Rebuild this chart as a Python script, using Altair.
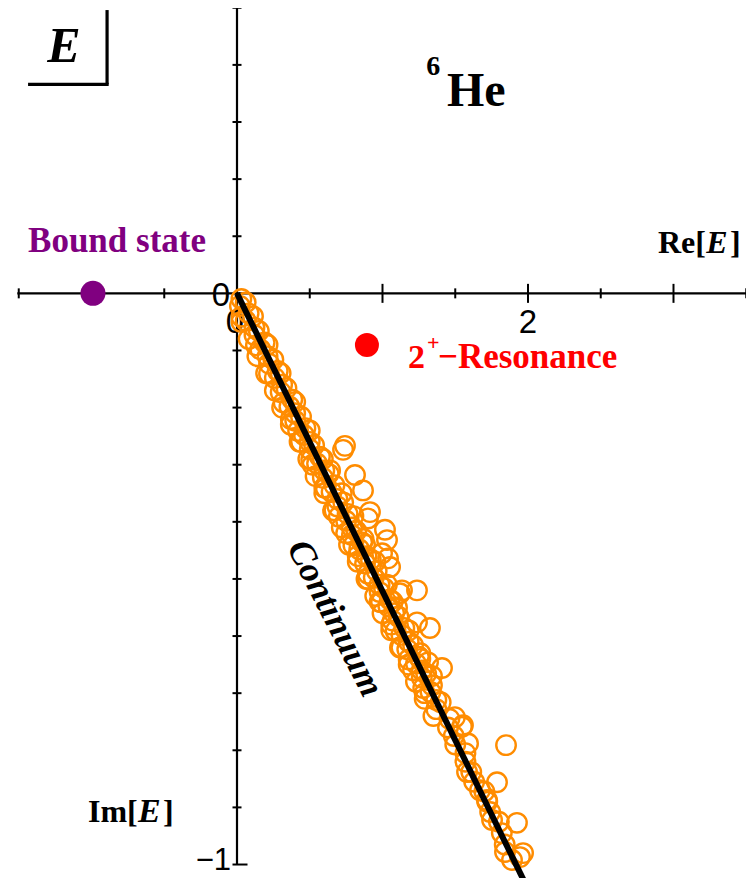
import altair as alt
import pandas as pd

# ---------------- data ----------------
X_MIN, X_MAX = -1.5739, 3.4983
Y_MIN, Y_MAX = -1.0236, 0.4996

# continuum states (orange open circles)
cont_re = [0.03, 0.02, 0.08, 0.06, 0.12, 0.12, 0.19, 0.16, 0.21, 0.22, 0.28, 0.26, 0.31, 0.30,
           0.38, 0.36, 0.40, 0.40, 0.47, 0.46, 0.50, 0.50, 0.57, 0.55, 0.60, 0.59, 0.67, 0.65,
           0.69, 0.69, 0.76, 0.75, 0.79, 0.79, 0.86, 0.84, 0.89, 0.88, 0.96, 0.94, 0.98, 0.98,
           1.05, 1.04, 1.08, 1.07, 1.15, 1.13, 1.18, 1.17, 1.25, 1.23, 1.27, 1.27, 1.34, 1.33,
           1.37, 1.37, 1.46, 1.45, 1.49, 1.50, 1.57, 1.57, 1.61, 1.63, 1.70, 1.72, 1.74, 1.80,
           1.82, 1.84,
           0.37, 0.44, 0.52, 0.60, 0.67, 0.75, 0.83, 0.90, 0.98, 1.06, 1.13, 1.21, 1.29,
           0.11, 0.21, 0.30, 0.40, 0.50, 0.59, 0.88, 1.07, 1.26,
           0.06, 0.03, 0.15, 0.13, 0.25, 0.22, 0.34, 0.32, 0.44, 0.42, 0.53, 0.51, 0.63, 0.61,
           0.73, 0.70, 0.82, 0.80, 0.92, 0.90, 1.01, 0.99, 1.11, 1.09, 1.21, 1.18, 1.30, 1.28, 1.40,
           0.03, 0.08, 0.14, 0.20, 0.26, 0.31, 0.37, 0.43, 0.49, 0.54, 0.60, 0.66, 0.72, 0.77,
           0.83, 0.89, 0.95, 1.00, 1.06, 1.12, 1.18, 1.23, 1.29, 1.35,
           0.64, 0.72, 0.80, 0.87, 0.95, 1.03, 1.10, 1.18, 1.26, 1.34,
           0.729, 0.742, 0.811, 0.866, 0.914, 0.900, 1.017, 1.031, 0.997, 1.038, 1.052, 1.134,
           1.237, 1.120, 1.326, 1.237, 1.409, 1.313, 1.553, 1.498, 1.849, 1.588, 1.546, 1.787,
           1.581, 1.924, 1.753, 1.966, 1.842, 1.890, 1.718, 1.670, 1.945]
cont_im = [-0.010, -0.022, -0.035, -0.048, -0.060, -0.073, -0.086, -0.098, -0.110, -0.123,
           -0.136, -0.148, -0.160, -0.173, -0.186, -0.198, -0.210, -0.223, -0.236, -0.248,
           -0.260, -0.273, -0.286, -0.298, -0.310, -0.323, -0.336, -0.348, -0.360, -0.373,
           -0.386, -0.398, -0.410, -0.423, -0.436, -0.448, -0.460, -0.473, -0.486, -0.498,
           -0.510, -0.523, -0.536, -0.548, -0.560, -0.573, -0.586, -0.598, -0.610, -0.623,
           -0.636, -0.648, -0.660, -0.673, -0.686, -0.698, -0.712, -0.728, -0.745, -0.760,
           -0.775, -0.790, -0.805, -0.820, -0.838, -0.855, -0.872, -0.890, -0.908, -0.925,
           -0.945, -0.965,
           -0.22, -0.26, -0.30, -0.34, -0.38, -0.42, -0.46, -0.50, -0.54, -0.58, -0.62, -0.66, -0.70,
           -0.04, -0.09, -0.14, -0.19, -0.24, -0.29, -0.44, -0.54, -0.64,
           -0.016, -0.041, -0.066, -0.091, -0.116, -0.141, -0.166, -0.191, -0.216, -0.241,
           -0.266, -0.291, -0.316, -0.341, -0.366, -0.391, -0.416, -0.441, -0.466, -0.491,
           -0.516, -0.541, -0.566, -0.591, -0.616, -0.641, -0.666, -0.691, -0.716,
           -0.05, -0.08, -0.11, -0.14, -0.17, -0.20, -0.23, -0.26, -0.29, -0.32, -0.35, -0.38,
           -0.41, -0.44, -0.47, -0.50, -0.53, -0.56, -0.59, -0.62, -0.65, -0.68, -0.71, -0.74,
           -0.31, -0.35, -0.39, -0.43, -0.47, -0.51, -0.55, -0.59, -0.63, -0.67,
           -0.274, -0.267, -0.318, -0.345, -0.383, -0.394, -0.414, -0.432, -0.455, -0.464, -0.479,
           -0.520, -0.520, -0.525, -0.586, -0.576, -0.656, -0.646, -0.756, -0.742, -0.791, -0.788,
           -0.759, -0.856, -0.838, -0.927, -0.922, -0.980, -0.978, -0.992, -0.887, -0.870, -0.987]

bound_re, bound_im = [-0.99], [0.0]
res_re, res_im = [0.893], [-0.0905]

line_re = [0.0, 2.0]
line_im = [0.0, -1.043]

x_axis_ext = [-1.51, 3.50]
y_axis_ext = [-1.0, 0.5]
x_minor_ticks = [-1.5, -0.5, 0.5, 1.5, 2.5, 3.5]
x_major_ticks = [-1.0, 1.0, 2.0, 3.0]
y_minor_ticks = [0.5, 0.4, 0.3, 0.2, 0.1, -0.1, -0.2, -0.3, -0.4, -0.5, -0.6, -0.7, -0.8, -0.9]
y_major_ticks = [-1.0]

# tick labels
xlab_text = ["0", "2"]
xlab_re = [-0.014, 2.0]
xlab_im = [-0.0695, -0.0695]
ylab0_text, ylab0_re, ylab0_im = ["0"], [-0.048], [-0.005]
ylab1_text, ylab1_re, ylab1_im = ["\u22121"], [-0.041], [-1.0103]

# ---------------- helpers ----------------
xs = alt.Scale(domain=[X_MIN, X_MAX], nice=False, zero=False)
ys = alt.Scale(domain=[Y_MIN, Y_MAX], nice=False, zero=False)


def X(f="x"):
    return alt.X(f + ":Q", scale=xs, axis=None)


def Y(f="y"):
    return alt.Y(f + ":Q", scale=ys, axis=None)


def text_layer(texts, xv, yv, size, color="black", font="Liberation Serif", weight="bold",
               style="normal", align="left", baseline="alphabetic", angle=0):
    df = pd.DataFrame({"x": xv, "y": yv, "t": texts})
    return alt.Chart(df).mark_text(
        fontSize=size, color=color, font=font, fontWeight=weight, fontStyle=style,
        align=align, baseline=baseline, angle=angle
    ).encode(x=X(), y=Y(), text="t:N")


layers = []

# axis lines
layers.append(alt.Chart(pd.DataFrame({"x": [x_axis_ext[0]], "x2": [x_axis_ext[1]], "y": [0.0]}))
              .mark_rule(color="black", strokeWidth=2.2)
              .encode(x=X(), x2="x2:Q", y=Y()))
layers.append(alt.Chart(pd.DataFrame({"y": [y_axis_ext[0]], "y2": [y_axis_ext[1]], "x": [0.0]}))
              .mark_rule(color="black", strokeWidth=2.2)
              .encode(y=Y(), y2="y2:Q", x=X()))

# ticks
layers.append(alt.Chart(pd.DataFrame({"x": x_minor_ticks, "y": [0.0] * len(x_minor_ticks)}))
              .mark_tick(orient="vertical", size=10, thickness=2, color="black", opacity=1)
              .encode(x=X(), y=Y()))
layers.append(alt.Chart(pd.DataFrame({"x": x_major_ticks, "y": [0.0] * len(x_major_ticks)}))
              .mark_tick(orient="vertical", size=19, thickness=2, color="black", opacity=1)
              .encode(x=X(), y=Y()))
layers.append(alt.Chart(pd.DataFrame({"y": y_minor_ticks, "x": [0.0] * len(y_minor_ticks)}))
              .mark_tick(orient="horizontal", size=9, thickness=2, color="black", opacity=1)
              .encode(x=X(), y=Y()))
layers.append(alt.Chart(pd.DataFrame({"y": y_major_ticks, "x": [0.0] * len(y_major_ticks)}))
              .mark_tick(orient="horizontal", size=15, thickness=2, color="black", opacity=1, xOffset=3)
              .encode(x=X(), y=Y()))

# tick labels
layers.append(text_layer(xlab_text, xlab_re, xlab_im, 33, font="Liberation Sans", weight="normal",
                         align="center"))
layers.append(text_layer(ylab0_text, ylab0_re, ylab0_im, 33, font="Liberation Sans", weight="normal",
                         align="right", baseline="middle"))
layers.append(text_layer(ylab1_text, ylab1_re, ylab1_im, 31, font="Liberation Sans", weight="normal",
                         align="right", baseline="alphabetic"))

# corner "E" box
layers.append(alt.Chart(pd.DataFrame({"x": [-0.893], "y": [0.366], "y2": [0.496]}))
              .mark_rule(color="black", strokeWidth=3.2)
              .encode(x=X(), y=Y(), y2="y2:Q"))
layers.append(alt.Chart(pd.DataFrame({"x": [-1.436], "x2": [-0.882], "y": [0.366]}))
              .mark_rule(color="black", strokeWidth=3.2)
              .encode(x=X(), x2="x2:Q", y=Y()))
layers.append(text_layer(["E"], [-1.189], [0.405], 50, style="italic", align="center"))

# title 6He
layers.append(text_layer(["He"], [1.443], [0.328], 48))
layers.append(text_layer(["6"], [1.300], [0.382], 28))

# axis names
layers.append(text_layer(["Re["], [2.893], [0.0705], 32))
layers.append(text_layer(["E"], [3.225], [0.0705], 32, style="italic"))
layers.append(text_layer(["]"], [3.388], [0.0705], 32))
layers.append(text_layer(["Im["], [-1.024], [-0.926], 32))
layers.append(text_layer(["E"], [-0.680], [-0.926], 34, style="italic"))
layers.append(text_layer(["]"], [-0.509], [-0.926], 32))

# annotations
layers.append(text_layer(["Bound state"], [-1.436], [0.0723], 35, color="#800080"))
layers.append(text_layer(["2"], [1.175], [-0.131], 34, color="#FF0000"))
layers.append(text_layer(["+"], [1.306], [-0.099], 22, color="#FF0000"))
layers.append(text_layer(["\u2212Resonance"], [1.381], [-0.131], 35, color="#FF0000"))
layers.append(text_layer(["Continuum"], [0.674], [-0.569], 36, style="italic", align="center",
                         baseline="middle", angle=63))

# continuum points
layers.append(alt.Chart(pd.DataFrame({"x": cont_re, "y": cont_im}))
              .mark_point(shape="circle", filled=False, size=380, strokeWidth=2.4,
                          color="#FF8C00", opacity=1)
              .encode(x=X(), y=Y()))

# continuum line
layers.append(alt.Chart(pd.DataFrame({"x": line_re, "y": line_im}))
              .mark_line(color="black", strokeWidth=6, clip=True)
              .encode(x=X(), y=Y()))

# bound state and resonance
layers.append(alt.Chart(pd.DataFrame({"x": bound_re, "y": bound_im}))
              .mark_circle(size=625, color="#800080", opacity=1)
              .encode(x=X(), y=Y()))
layers.append(alt.Chart(pd.DataFrame({"x": res_re, "y": res_im}))
              .mark_circle(size=576, color="#FF0000", opacity=1)
              .encode(x=X(), y=Y()))

chart = alt.layer(*layers).properties(
    width=738, height=870, padding=0,
    autosize=alt.AutoSizeParams(type="none")
).configure_view(stroke=None)

chart.save("out.html", embed_options={"renderer": "svg", "actions": False})
